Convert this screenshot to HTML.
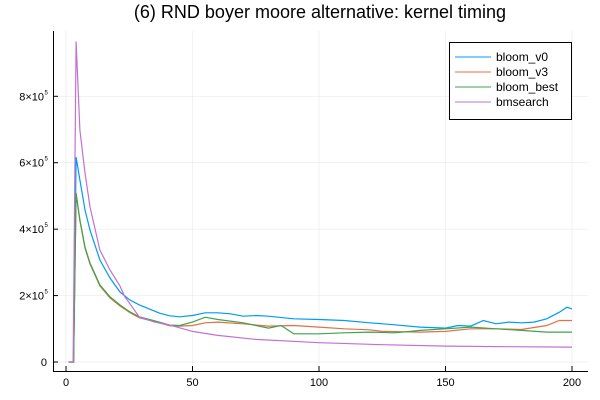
<!DOCTYPE html>
<html><head><meta charset="utf-8"><style>
body{margin:0;background:#fff}
svg{display:block;font-family:"Liberation Sans","DejaVu Sans",sans-serif}
</style></head><body>
<svg id="chart" width="600" height="400" viewBox="0 0 600 400">
<text x="320" y="18" text-anchor="middle" font-size="18" fill="#000">(6) RND boyer moore alternative: kernel timing</text>
<g id="grid"></g>
<g id="series"></g>
<g id="axes"></g>
<g>
<rect x="449.5" y="42.5" width="122" height="77" fill="#fff" stroke="#000" stroke-width="1"/>
<line x1="455" y1="57" x2="491" y2="57" stroke="#009af9" stroke-width="1"/>
<text x="496" y="61" font-size="12">bloom_v0</text>
<line x1="455" y1="72" x2="491" y2="72" stroke="#e26f46" stroke-width="1"/>
<text x="496" y="76" font-size="12">bloom_v3</text>
<line x1="455" y1="87" x2="491" y2="87" stroke="#3da44d" stroke-width="1"/>
<text x="496" y="91" font-size="12">bloom_best</text>
<line x1="455" y1="102" x2="491" y2="102" stroke="#c271d2" stroke-width="1"/>
<text x="496" y="106" font-size="12">bmsearch</text>
</g>
</svg>
<script>
const xTicks=[0,50,100,150,200];
const yTicks=[0,200000,400000,600000,800000];
const yTickMant=["0","2","4","6","8"];
const bmX=[1,2.8,4,5.5,7.5,9.5,13.4,17.4,21.3,23.3,25,29,35,41,50,60,75,100,125,150,175,200];
const bmY=[0,0,965000,698000,569000,467000,337000,277000,229000,196000,178000,135000,120000,111000,92000,80000,68000,58000,52000,48000,46000,45000];
const v0X=[1,3,4,5.5,7.5,9.5,13.4,17.4,21.3,25,29,37,41,45,50,55,60,65,70,75,80,90,100,110,120,130,140,150,155,160,165,170,175,180,185,190,195,198,200];
const v0Y=[0,0,617000,548000,458000,397000,307000,253000,211000,188000,172000,147000,139000,136000,140000,148000,148000,145000,138000,140000,138000,130000,128000,125000,118000,112000,105000,102000,110000,108000,125000,115000,120000,118000,120000,130000,150000,165000,160000];
const v3X=[1,3,4,5.5,7.5,9.5,13.4,17.4,21.3,25,29,35,41,45,50,55,60,70,80,90,100,110,120,125,140,150,160,170,180,190,195,200];
const v3Y=[0,0,505000,425000,343000,295000,229000,193000,169000,150000,133000,122000,109000,108000,110000,118000,120000,115000,108000,110000,105000,100000,97000,92000,90000,92000,100000,100000,98000,110000,125000,125000];
const bestX=[1,3,4,5.5,7.5,9.5,13.4,17.4,21.3,25,29,35,41,45,50,55,60,70,80,85,90,100,110,120,130,140,150,160,170,180,190,200];
const bestY=[0,0,509000,428000,346000,298000,232000,196000,172000,152000,136000,124000,111000,110000,120000,135000,128000,118000,102000,110000,85000,85000,88000,90000,88000,95000,100000,105000,100000,95000,90000,90000];
const X=v=>66+v*(572-66)/200;
const Y=v=>362-v*(362-96.3)/800000;
const NS="http://www.w3.org/2000/svg";
const grid=document.getElementById('grid'),axes=document.getElementById('axes'),ser=document.getElementById('series');
function mk(tag,attrs,parent){const e=document.createElementNS(NS,tag);for(const k in attrs)e.setAttribute(k,attrs[k]);parent.appendChild(e);return e;}
xTicks.forEach(t=>{
 const g=mk('line',{x1:X(t),x2:X(t),y1:31,y2:371,stroke:'#000','stroke-opacity':0.1,'stroke-width':0.5},grid);
 
 
 const tk=mk('line',{x1:X(t),x2:X(t),y1:371,y2:366,stroke:'#000','stroke-width':1},axes);
 
 
 const l=mk('text',{x:X(t),y:386,'text-anchor':'middle','font-size':11},axes);
 l.textContent=t;
 
 
});
yTicks.forEach((t,i)=>{
 const g=mk('line',{x1:53,x2:588,y1:Y(t),y2:Y(t),stroke:'#000','stroke-opacity':0.1,'stroke-width':0.5},grid);
 
 
 const tk=mk('line',{x1:53,x2:58,y1:Y(t),y2:Y(t),stroke:'#000','stroke-width':1},axes);
 
 
 const l=mk('text',{x:i==0?47:44,y:Y(t)+4,'text-anchor':'end','font-size':11},axes);
 
 
 if(i==0){l.textContent='0';}
 else{l.textContent=yTickMant[i]+'×10';
  const s=mk('text',{x:44.5,y:Y(t)-2,'font-size':6},axes);s.textContent='5';
  
  }
});
const ax=mk('path',{d:'M53.5 31 V371.5 H588',fill:'none',stroke:'#000','stroke-width':1},axes);


[[v0X,v0Y,'#009af9','line-bloom-v0'],[v3X,v3Y,'#e26f46','line-bloom-v3'],[bestX,bestY,'#3da44d','line-bloom-best'],[bmX,bmY,'#c271d2','line-bmsearch']].forEach(([xs,ys,c,n])=>{
 const p=mk('polyline',{points:xs.map((x,i)=>X(x).toFixed(1)+','+Y(ys[i]).toFixed(1)).join(' '),fill:'none',stroke:c,'stroke-width':1.2},ser);
 
 
});
</script>
</body></html>
